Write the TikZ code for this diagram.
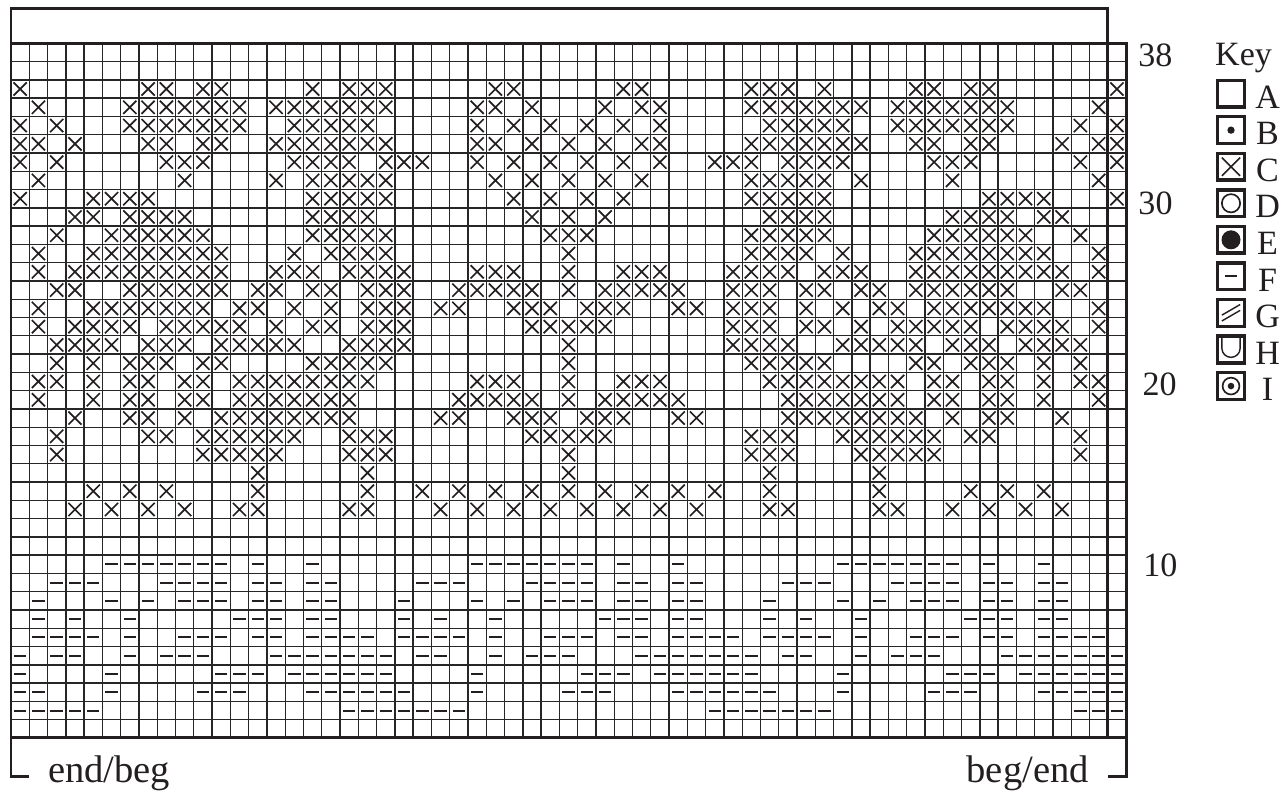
\documentclass[tikz,border=0pt]{standalone}
\usepackage{fontspec}
\setmainfont{Liberation Serif}
\usepackage{xcolor}
\definecolor{ink}{HTML}{231F20}
\definecolor{gridcol}{HTML}{262626}

% one chart row of C stitches: #1 row, #2 columns
\newcommand{\crossrow}[2]{%
	\foreach \cl in {#2}{%
		\draw[crossst]
		({\cl-0.86},{#1-0.86}) -- ({\cl-0.14},{#1-0.14})
		({\cl-0.86},{#1-0.14}) -- ({\cl-0.14},{#1-0.86});
	}%
}
% one chart row of F stitches, 20-stitch repeat: #1 row, #2 columns of the first repeat
\newcommand{\dashrow}[2]{%
	\foreach \cl in {#2}{%
		\foreach \rp in {0,20,40,60}{%
			\pgfmathtruncatemacro{\cc}{\cl+\rp}%
			\ifnum\cc<62
			\draw[dashst] ({\cc-0.84},{#1-0.5}) -- ({\cc-0.16},{#1-0.5});
			\fi
		}%
	}%
}

\begin{document}
\begin{tikzpicture}[x=0.5cm, y=0.5cm,
	gridline/.style={gridcol, line width=1.05pt},
	frameline/.style={ink, line width=2.3pt},
	crossst/.style={ink, line width=1.3pt},
	dashst/.style={ink, line width=1.6pt},
	keybox/.style={ink, line width=2.6pt},
	labeltext/.style={ink, inner sep=0pt, font=\fontsize{26.5}{30}\selectfont},
	endtext/.style={ink, inner sep=0pt, font=\fontsize{30}{34}\selectfont}]

	\useasboundingbox (-0.602,-3.009) rectangle (69.64,40.37);

	% ================= Chart: grid and frame =================
	\begin{scope}
		\foreach \i in {1,...,59}{
			\draw[gridline] (\i,0) -- (\i,38);
		}
		\foreach \j in {1,...,37}{
			\draw[gridline] (0,\j) -- (61,\j);
		}

		\draw[frameline]
		(60,38) -- (61,38) -- (61,0) -- (0,0) -- (0,39.92) -- (60,39.92) -- (60,0);
		\draw[frameline] (0,38) -- (60,38);

		% end/beg brackets
		\draw[frameline] (0,0) -- (0,-2.13) -- (1,-2.13);
		\draw[frameline] (61,0) -- (61,-2.13) -- (60,-2.13);

		\node[endtext, anchor=base west] (endbeg) at (2.02,-2.45) {end/beg};
		\node[endtext, anchor=base east] (begend) at (58.97,-2.45) {beg/end};
	\end{scope}

	% ================= Chart: C stitches =================
	\crossrow{36}{1,8,9,11,12,17,19,20,21,27,28,34,35,41,42,43,45,50,51,53,54,61}
	\crossrow{35}{2,7,8,9,10,11,12,13,15,16,17,18,19,20,21,26,27,29,33,35,36,41,42,43,44,45,46,47,49,50,51,52,53,54,55,60}
	\crossrow{34}{1,3,7,8,9,10,11,12,13,16,17,18,19,20,26,28,30,32,34,36,42,43,44,45,46,49,50,51,52,53,54,55,59,61}
	\crossrow{33}{1,2,4,8,9,11,12,15,16,17,18,19,20,21,26,27,29,31,33,35,36,41,42,43,44,45,46,47,50,51,53,54,58,60,61}
	\crossrow{32}{1,3,9,10,11,16,17,18,19,21,22,23,26,28,30,32,34,36,39,40,41,43,44,45,46,51,52,53,59,61}
	\crossrow{31}{2,10,15,17,18,19,20,21,27,29,31,33,35,41,42,43,44,45,47,52,60}
	\crossrow{30}{1,5,6,7,8,17,18,19,20,21,28,30,32,34,41,42,43,44,45,54,55,56,57,61}
	\crossrow{29}{4,5,7,8,9,10,17,18,19,20,29,31,33,42,43,44,45,52,53,54,55,57,58}
	\crossrow{28}{3,6,7,8,9,10,11,17,18,19,20,21,30,31,32,41,42,43,44,45,51,52,53,54,55,56,59}
	\crossrow{27}{2,5,6,7,8,9,10,11,12,16,18,19,20,21,31,41,42,43,44,46,50,51,52,53,54,55,56,57,60}
	\crossrow{26}{2,4,5,6,7,8,9,10,11,12,15,16,17,19,20,21,22,26,27,28,31,34,35,36,40,41,42,43,45,46,47,50,51,52,53,54,55,56,57,58,60}
	\crossrow{25}{3,4,7,8,9,10,11,12,14,15,17,18,20,21,22,25,26,27,28,29,31,33,34,35,36,37,40,41,42,44,45,47,48,50,51,52,53,54,55,58,59}
	\crossrow{24}{2,5,6,7,8,9,10,11,13,14,16,18,20,21,22,24,25,28,29,30,32,33,34,37,38,40,41,42,44,46,48,49,51,52,53,54,55,56,57,60}
	\crossrow{23}{2,4,5,6,7,9,10,11,12,13,15,17,18,20,21,22,29,30,31,32,33,40,41,42,44,45,47,49,50,51,52,53,55,56,57,58,60}
	\crossrow{22}{3,4,5,6,8,9,10,12,13,14,15,16,19,20,21,22,31,40,41,42,43,46,47,48,49,50,52,53,54,56,57,58,59}
	\crossrow{21}{3,5,7,8,9,11,12,17,18,19,20,21,31,41,42,43,44,45,50,51,53,54,55,57,59}
	\crossrow{20}{2,3,5,7,8,10,11,13,14,15,16,17,18,19,20,26,27,28,31,34,35,36,42,43,44,45,46,47,48,49,51,52,54,55,57,59,60}
	\crossrow{19}{2,5,7,8,10,11,13,14,15,16,17,18,19,25,26,27,28,29,31,33,34,35,36,37,43,44,45,46,47,48,49,51,52,54,55,57,60}
	\crossrow{18}{4,7,8,10,12,13,14,15,16,17,18,19,24,25,28,29,30,32,33,34,37,38,43,44,45,46,47,48,49,50,52,54,55,58}
	\crossrow{17}{3,8,9,11,12,13,14,15,16,19,20,21,29,30,31,32,33,41,42,43,46,47,48,49,50,51,53,54,59}
	\crossrow{16}{3,11,12,13,14,15,19,20,21,31,41,42,43,47,48,49,50,51,59}
	\crossrow{15}{14,20,31,42,48}
	\crossrow{14}{5,7,9,14,20,23,25,27,29,31,33,35,37,39,42,48,53,55,57}
	\crossrow{13}{4,6,8,10,13,14,19,20,24,26,28,30,32,34,36,38,42,43,48,49,52,54,56,58}

	% ================= Chart: F stitches =================
	\dashrow{10}{6,7,8,9,10,11,12,14,17}
	\dashrow{9}{3,4,5,9,10,11,12,14,15,17,18}
	\dashrow{8}{2,6,8,10,11,12,14,15,17,18}
	\dashrow{7}{2,4,7,13,14,15,17,18}
	\dashrow{6}{2,3,4,5,7,10,11,12,14,15,17,18,19,20}
	\dashrow{5}{1,3,4,7,9,10,11,15,16,17,18,19,20}
	\dashrow{4}{1,6,12,13,14,16,17,18,19,20}
	\dashrow{3}{1,2,6,11,12,13,17,18,19,20}
	\dashrow{2}{1,2,3,4,5,19,20}

	% ================= Row numbers =================
	\node[labeltext, anchor=base] (row38) at (62.60,36.71) {38};
	\node[labeltext, anchor=base] (row30) at (62.61,28.66) {30};
	\node[labeltext, anchor=base] (row20) at (62.83,18.76) {20};
	\node[labeltext, anchor=base] (row10) at (62.88,8.81) {10};

	% ================= Key =================
	\node[labeltext, anchor=base west] (keytitle) at (65.86,36.78) {Key};

	\foreach \ltr/\ky in {A/35.25,B/33.25,C/31.25,D/29.25,E/27.25,F/25.25,G/23.25,H/21.25,I/19.25}{
		\coordinate (k\ltr) at (66.74,\ky);
		\draw[keybox] (65.99,{\ky-0.73}) rectangle (67.49,{\ky+0.73});
		\node[labeltext, anchor=base] (key\ltr) at (68.74,{\ky-0.8}) {\ltr};
	}

	\fill[ink] (kB) circle (0.2);
	\draw[crossst, shift={(kC)}] (-0.5,-0.5) -- (0.5,0.5) (-0.5,0.5) -- (0.5,-0.5);
	\draw[ink, line width=1.3pt] (kD) circle (0.5);
	\fill[ink] (kE) circle (0.52);
	\draw[dashst, shift={(kF)}] (-0.35,0) -- (0.35,0);
	\draw[ink, line width=1.1pt, shift={(kG)}]
	(-0.5,-0.12) -- (0.5,0.46)
	(-0.5,-0.44) -- (0.5,0.14);
	\draw[ink, line width=1.1pt, shift={(kH)}]
	(-0.5,0.66) -- (-0.5,0.07) arc[start angle=180, end angle=360, radius=0.5] -- (0.5,0.66);
	\draw[ink, line width=1.3pt] (kI) circle (0.46);
	\fill[ink] (kI) circle (0.18);

\end{tikzpicture}
\end{document}
